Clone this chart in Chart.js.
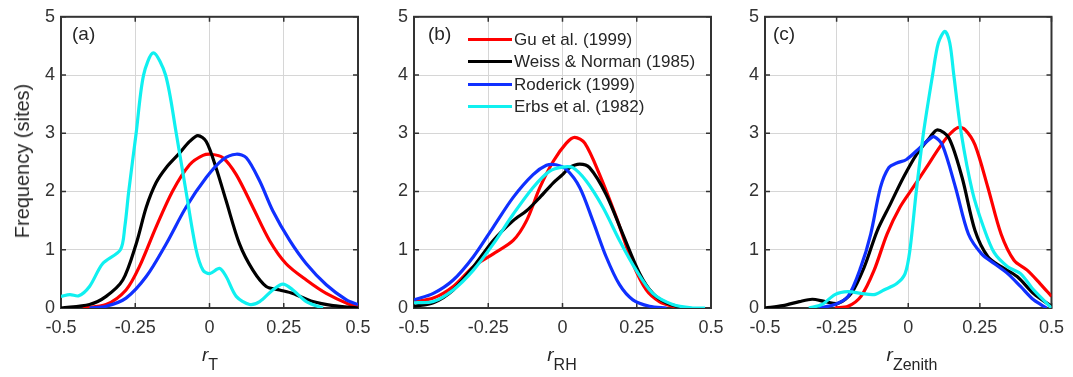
<!DOCTYPE html>
<html>
<head>
<meta charset="utf-8">
<script src="https://cdn.jsdelivr.net/npm/chart.js@4.4.1/dist/chart.umd.min.js"></script>
<style>
  html, body { margin: 0; padding: 0; background: #fff; }
  body { width: 1073px; height: 377px; position: relative; overflow: hidden; font-family: "Liberation Sans", Arial, sans-serif; color: #262626; }
  .pane { position: absolute; top: 0; height: 377px; }
  .txt { position: absolute; white-space: nowrap; line-height: 1; }
  .ytitle { left: 22px; top: 161px; font-size: 20px; transform: translate(-50%, -50%) rotate(-90deg); }
  .xtitle { top: 345px; font-size: 19px; transform: translateX(-50%); }
  .xtitle i { font-style: italic; }
  .xtitle sub { font-size: 16px; vertical-align: -9px; line-height: 1; }
  .plab { top: 24px; font-size: 19px; }
  .leg { left: 468px; font-size: 17px; display: flex; align-items: center; height: 20px; }
  .leg span { display: inline-block; width: 44px; height: 3px; margin-right: 2px; }
</style>
</head>
<body>
<div class="pane" style="left:0;width:386px"><canvas id="chartA"></canvas></div>
<div class="pane" style="left:386px;width:352px"><canvas id="chartB"></canvas></div>
<div class="pane" style="left:738px;width:335px"><canvas id="chartC"></canvas></div>

<div class="txt ytitle">Frequency (sites)</div>
<div class="txt xtitle" style="left:210px"><i>r</i><sub>T</sub></div>
<div class="txt xtitle" style="left:562px"><i>r</i><sub>RH</sub></div>
<div class="txt xtitle" style="left:912px"><i>r</i><sub>Zenith</sub></div>
<div class="txt plab" style="left:72px">(a)</div>
<div class="txt plab" style="left:428px">(b)</div>
<div class="txt plab" style="left:773px">(c)</div>
<div id="legend"></div>

<script>
// series names + colours (same in all panels)
const names = ["Gu et al. (1999)", "Weiss & Norman (1985)", "Roderick (1999)", "Erbs et al. (1982)"];
const colors = ["#ff0000", "#000000", "#1030ff", "#10f0f0"];

const xTicks = [-0.5, -0.25, 0, 0.25, 0.5];
const yTicks = [0, 1, 2, 3, 4, 5];

// (a) r_T
const aGuX = [-0.427, -0.348, -0.281, -0.236, -0.18, -0.124, -0.067, -0.022, 0.006, 0.045, 0.09, 0.146, 0.202, 0.258, 0.326, 0.393, 0.472, 0.5];
const aGuY = [0, 0.06, 0.31, 0.71, 1.39, 2.01, 2.46, 2.62, 2.64, 2.58, 2.29, 1.73, 1.16, 0.76, 0.48, 0.25, 0.06, 0.03];
const aWeissX = [-0.5, -0.404, -0.348, -0.292, -0.247, -0.213, -0.18, -0.146, -0.101, -0.067, -0.039, -0.011, 0.022, 0.056, 0.101, 0.146, 0.191, 0.236, 0.281, 0.348, 0.416, 0.5];
const aWeissY = [0, 0.06, 0.2, 0.48, 1.1, 1.73, 2.15, 2.41, 2.66, 2.86, 2.96, 2.86, 2.41, 1.84, 1.1, 0.65, 0.37, 0.31, 0.25, 0.11, 0.04, 0];
const aRodX = [-0.404, -0.348, -0.281, -0.213, -0.146, -0.079, -0.011, 0.045, 0.09, 0.124, 0.169, 0.213, 0.27, 0.326, 0.393, 0.461, 0.5];
const aRodY = [0, 0.03, 0.17, 0.54, 1.1, 1.73, 2.24, 2.55, 2.64, 2.58, 2.18, 1.67, 1.16, 0.76, 0.4, 0.14, 0.06];
const aErbsX = [-0.5, -0.47, -0.44, -0.404, -0.36, -0.3, -0.285, -0.272, -0.247, -0.222, -0.189, -0.148, -0.112, -0.079, -0.045, -0.022, 0, 0.034, 0.056, 0.09, 0.135, 0.169, 0.213, 0.247, 0.281, 0.326, 0.382];
const aErbsY = [0.2, 0.23, 0.21, 0.37, 0.76, 1.0, 1.4, 2.0, 3.0, 4.0, 4.38, 4.0, 3.0, 2.0, 1.0, 0.65, 0.59, 0.68, 0.54, 0.2, 0.06, 0.11, 0.31, 0.41, 0.31, 0.11, 0];

// (b) r_RH
const bGuX = [-0.5, -0.435, -0.368, -0.3, -0.233, -0.166, -0.121, -0.076, -0.031, 0.013, 0.041, 0.075, 0.125, 0.181, 0.237, 0.282, 0.326, 0.371, 0.41];
const bGuY = [0.11, 0.17, 0.37, 0.71, 0.93, 1.16, 1.5, 2.07, 2.52, 2.83, 2.93, 2.83, 2.29, 1.56, 0.76, 0.31, 0.11, 0.03, 0];
const bWeissX = [-0.5, -0.435, -0.368, -0.3, -0.233, -0.166, -0.121, -0.076, -0.031, 0, 0.024, 0.058, 0.091, 0.147, 0.203, 0.26, 0.304, 0.349, 0.405];
const bWeissY = [0.03, 0.09, 0.31, 0.71, 1.16, 1.5, 1.67, 1.9, 2.15, 2.29, 2.41, 2.47, 2.41, 1.95, 1.27, 0.59, 0.25, 0.09, 0];
const bRodX = [-0.5, -0.435, -0.368, -0.3, -0.233, -0.166, -0.099, -0.054, -0.022, 0.013, 0.058, 0.102, 0.147, 0.192, 0.237, 0.293, 0.35];
const bRodY = [0.14, 0.25, 0.48, 0.88, 1.39, 1.9, 2.29, 2.45, 2.46, 2.38, 2.07, 1.5, 0.88, 0.4, 0.14, 0.03, 0];
const bErbsX = [-0.5, -0.435, -0.368, -0.3, -0.233, -0.166, -0.099, -0.043, 0, 0.035, 0.08, 0.136, 0.192, 0.248, 0.304, 0.371, 0.438, 0.48];
const bErbsY = [0.09, 0.11, 0.31, 0.65, 1.1, 1.61, 2.07, 2.35, 2.42, 2.41, 2.18, 1.73, 1.16, 0.65, 0.25, 0.06, 0, 0];

// (c) r_Zenith
const cGuX = [-0.256, -0.21, -0.165, -0.119, -0.074, -0.029, 0.017, 0.063, 0.108, 0.142, 0.174, 0.199, 0.233, 0.278, 0.324, 0.369, 0.415, 0.46, 0.5];
const cGuY = [0, 0.03, 0.2, 0.65, 1.27, 1.73, 2.07, 2.41, 2.75, 2.97, 3.1, 3.06, 2.8, 2.07, 1.27, 0.82, 0.65, 0.42, 0.2];
const cWeissX = [-0.5, -0.4375, -0.38, -0.335, -0.29, -0.244, -0.199, -0.153, -0.108, -0.063, -0.017, 0.028, 0.074, 0.102, 0.142, 0.188, 0.233, 0.278, 0.324, 0.38, 0.4375, 0.5];
const cWeissY = [0, 0.04, 0.11, 0.15, 0.11, 0.08, 0.25, 0.71, 1.33, 1.78, 2.24, 2.63, 2.92, 3.06, 2.92, 2.24, 1.33, 0.88, 0.71, 0.54, 0.25, 0.03];
const cRodX = [-0.3125, -0.256, -0.21, -0.165, -0.131, -0.097, -0.068, -0.04, -0.006, 0.04, 0.074, 0.091, 0.119, 0.165, 0.21, 0.256, 0.301, 0.347, 0.392, 0.4375, 0.483];
const cRodY = [0, 0.06, 0.2, 0.71, 1.27, 2.07, 2.41, 2.49, 2.55, 2.75, 2.9, 2.94, 2.8, 2.07, 1.27, 0.93, 0.76, 0.59, 0.37, 0.14, 0];
const cErbsX = [-0.347, -0.301, -0.256, -0.21, -0.165, -0.119, -0.085, -0.04, -0.011, 0.006, 0.028, 0.053, 0.085, 0.105, 0.128, 0.145, 0.159, 0.185, 0.224, 0.262, 0.3, 0.347, 0.392, 0.4375, 0.5];
const cErbsY = [0, 0.06, 0.23, 0.28, 0.25, 0.23, 0.31, 0.42, 0.59, 1.0, 2.0, 3.0, 4.0, 4.55, 4.75, 4.55, 4.0, 3.0, 2.0, 1.4, 0.95, 0.71, 0.59, 0.31, 0];

const AXIS = "#333333";
const GRID = "#d6d6d6";
const FONT = "'Liberation Sans', Arial, sans-serif";

function pts(xs, ys) {
  return xs.map((x, i) => ({ x: x, y: ys[i] }));
}

function fmtX(v) {
  if (v === 0) return "0";
  return String(v);
}

// MATLAB-ish box with inward ticks on all four sides
const boxPlugin = {
  id: "box",
  beforeDatasetsDraw(chart) {
    const { ctx, chartArea: a, scales } = chart;
    const t = 5;
    ctx.save();
    ctx.strokeStyle = AXIS;
    ctx.lineWidth = 1.5;
    ctx.beginPath();
    xTicks.forEach(v => {
      const px = scales.x.getPixelForValue(v);
      ctx.moveTo(px, a.bottom); ctx.lineTo(px, a.bottom - t);
      ctx.moveTo(px, a.top); ctx.lineTo(px, a.top + t);
    });
    yTicks.forEach(v => {
      const py = scales.y.getPixelForValue(v);
      ctx.moveTo(a.left, py); ctx.lineTo(a.left + t, py);
      ctx.moveTo(a.right, py); ctx.lineTo(a.right - t, py);
    });
    ctx.stroke();
    ctx.lineWidth = 2;
    ctx.strokeRect(a.left, a.top, a.right - a.left, a.bottom - a.top);
    ctx.restore();
  },
};

function makePanel(id, series, yWidth, padRight) {
  const order = [3, 2, 1, 0]; // erbs on top, like matlab draw order
  new Chart(document.getElementById(id), {
    type: "line",
    data: {
      datasets: series.map((s, i) => ({
        label: names[i],
        data: pts(s[0], s[1]),
        borderColor: colors[i],
        borderWidth: 3.2,
        pointRadius: 0,
        fill: false,
        tension: 0.3,
        order: order[i],
      })),
    },
    options: {
      responsive: true,
      maintainAspectRatio: false,
      animation: false,
      events: [],
      layout: { padding: { top: 14, right: padRight, left: 0, bottom: 0 } },
      plugins: { legend: { display: false }, tooltip: { enabled: false } },
      scales: {
        x: {
          type: "linear",
          min: -0.5,
          max: 0.5,
          afterBuildTicks: s => { s.ticks = xTicks.map(v => ({ value: v })); },
          afterFit: s => { s.height = 69; },
          ticks: { color: AXIS, font: { family: FONT, size: 18 }, padding: 9, maxRotation: 0, callback: fmtX },
          grid: { color: GRID, lineWidth: 1, drawTicks: false },
          border: { display: false },
        },
        y: {
          min: 0,
          max: 5,
          afterBuildTicks: s => { s.ticks = yTicks.map(v => ({ value: v })); },
          afterFit: s => { s.width = yWidth; },
          ticks: { color: AXIS, font: { family: FONT, size: 18 }, padding: 6 },
          grid: { color: GRID, lineWidth: 1, drawTicks: false },
          border: { display: false },
        },
      },
    },
    plugins: [boxPlugin],
  });
}

function renderLegend() {
  const box = document.getElementById("legend");
  const rows = [39, 61.5, 84, 106.5];
  names.forEach((n, i) => {
    const d = document.createElement("div");
    d.className = "txt leg";
    d.style.top = (rows[i] - 10) + "px";
    const line = document.createElement("span");
    line.style.background = colors[i];
    d.appendChild(line);
    d.appendChild(document.createTextNode(n));
    box.appendChild(d);
  });
}

makePanel("chartA", [[aGuX, aGuY], [aWeissX, aWeissY], [aRodX, aRodY], [aErbsX, aErbsY]], 61, 28);
makePanel("chartB", [[bGuX, bGuY], [bWeissX, bWeissY], [bRodX, bRodY], [bErbsX, bErbsY]], 28, 27);
makePanel("chartC", [[cGuX, cGuY], [cWeissX, cWeissY], [cRodX, cRodY], [cErbsX, cErbsY]], 27, 14);
renderLegend();
</script>
</body>
</html>
